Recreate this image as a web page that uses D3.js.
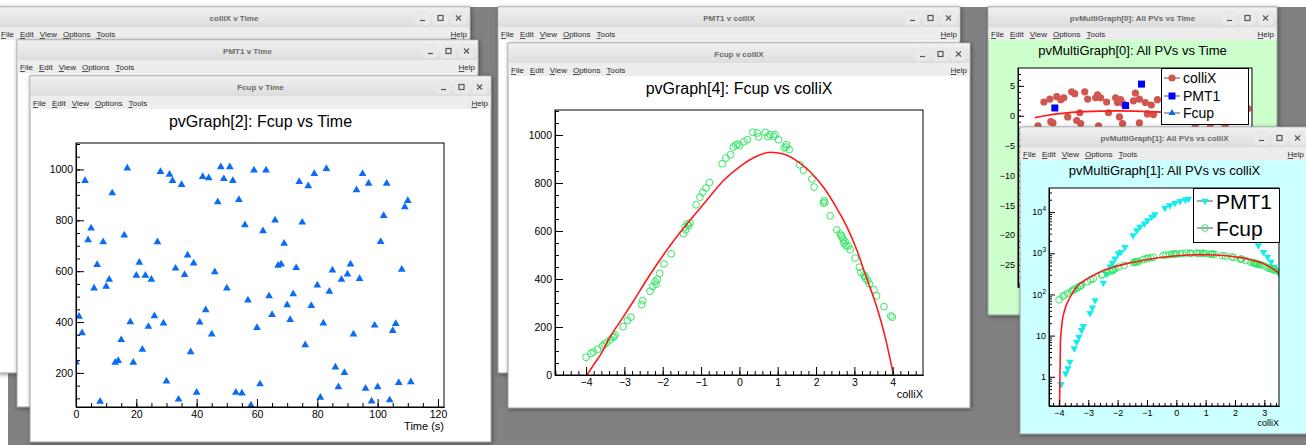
<!DOCTYPE html>
<html>
<head>
<meta charset="utf-8">
<title>ROOT pv graphs</title>
<script src="https://cdn.jsdelivr.net/npm/d3@7"></script>
<style>
  body { margin: 0; background: #fff; }
  svg { display: block; }
</style>
</head>
<body>
<div id="desk"></div>
<script>
//Fcup vs Time, one reading per second (t = index, 0..111)
var fcupVsTime = [
  242, 422, 357, 956, 723, 769, 533, 625, 88, 715,
  540, 567, 907, 241, 248, 330, 741, 1005, 400, 241,
  583, 634, 292, 583, 382, 567, 424, 715, 991, 395,
  167, 980, 956, 611, 96, 940, 586, 663, 282, 631,
  123, 399, 971, 447, 966, 352, 597, 872, 1010, 963,
  533, 1010, 956, 123, 881, 120, 782, 486, 73, 997,
  378, 156, 758, 997, 502, 429, 800, 622, 627, 709,
  467, 409, 510, 613, 952, 792, 310, 935, 464, 983,
  545, 103, 395, 1003, 520, 604, 222, 145, 567, 201,
  588, 627, 352, 919, 570, 983, 139, 945, 89, 387,
  145, 716, 818, 945, 93, 366, 393, 161, 607, 852,
  877, 164
];

//Fcup vs colliX scan
var scanColliX = [-4.0, -3.87, -3.81, -3.70, -3.57, -3.46, -3.37, -3.30, -3.24, -3.03,
  -2.92, -2.83, -2.55, -2.52, -2.33, -2.26, -2.20, -2.14, -2.08, -1.97,
  -1.78, -1.46, -1.42, -1.36, -1.29, -1.13, -1.03, -0.96, -0.87, -0.78,
  -0.45, -0.35, -0.23, -0.16, -0.09, 0.0, 0.12, 0.21, 0.35, 0.47,
  0.50, 0.68, 0.80, 0.89, 0.93, 1.02, 1.17, 1.23, 1.30, 1.57,
  1.67, 1.89, 1.95, 2.19, 2.21, 2.37, 2.54, 2.63, 2.68, 2.71,
  2.76, 2.78, 2.84, 2.89, 3.02, 3.13, 3.17, 3.25, 3.29, 3.34,
  3.39, 3.51, 3.58, 3.77, 3.95, 3.99,
  -1.40, -1.33, 2.66, 2.73, 3.28, -2.17, -3.27, -3.52, 0.74, -0.04, 1.22, 2.23];
var scanFcup = [74, 90, 96, 107, 121, 135, 146, 157, 167, 202,
  227, 241, 293, 310, 349, 369, 389, 399, 423, 463,
  505, 588, 616, 629, 633, 709, 741, 761, 779, 802,
  880, 904, 918, 950, 958, 955, 972, 980, 1011, 1008,
  992, 1011, 1001, 994, 1001, 980, 946, 960, 939, 876,
  853, 816, 783, 716, 727, 663, 605, 588, 574, 563,
  555, 538, 538, 522, 487, 449, 427, 417, 403, 394,
  380, 355, 330, 285, 246, 241,
  605, 622, 580, 548, 410, 378, 160, 128, 993, 962, 950, 719];

//red fit curve
var fitColliX = [-3.98, -3.95, -3.9, -3.8, -3.63, -3.37, -3.04, -2.77, -2.42, -2.07, -1.63, -1.2, -0.77, -0.42,
  0.02, 0.45, 0.8, 1.15, 1.58, 1.84, 2.19, 2.54, 2.80, 3.06, 3.32, 3.58, 3.8, 4.02];
var fitFcup = [0, 7, 19, 43, 83, 160, 239, 306, 396, 480, 577, 661, 744, 809,
  869, 911, 928, 921, 883, 848, 783, 695, 619, 522, 403, 285, 160, 0];

//PMT1 vs colliX (log plot)
var pmtColliX = [-3.93, -3.77, -3.70, -3.63, -3.48, -3.40, -3.32, -3.23, -3.17, -2.94,
  -2.86, -2.77, -2.49, -2.38, -2.26, -2.18, -2.09, -1.98, -1.89, -1.75,
  -1.47, -1.35, -1.24, -1.09, -0.98, -0.84, -0.73, -0.39, -0.22, -0.05,
  0.13, 0.30, 0.41, 2.80, 2.97, 3.11, 3.23, 3.34, 3.45, 3.50];
var pmtValue = [0.66, 1.2, 1.6, 2.3, 4.9, 7, 9.3, 13.5, 17, 35,
  48, 72, 190, 310, 470, 580, 740, 980, 1070, 1410,
  2700, 3600, 4350, 5250, 6300, 7600, 8800, 12700, 14500, 16500,
  18500, 20000, 21000, 1550, 1070, 815, 620, 465, 375, 310];

//multigraph[0]: all PVs vs time (visible part)
var mgTime = [8.0, 11.1, 12.7, 14.7, 16.8, 18.4, 20.4, 22.5, 24.1, 25.1,
  26.7, 29.3, 30.8, 35.0, 36.0, 37.6, 40.7, 41.7, 45.4, 46.4,
  48.0, 49.5, 47.4, 54.7, 55.7, 57.8, 60.9, 62.0, 64.0, 65.1,
  67.2, 4.9, 11.6, 27.2, 36.5, 49.0, 57.8, 86.9, 94.7, 102.5, 114.4];
var mgColliX = [2.3, 2.8, -1.2, 3.2, 2.7, 3.0, -0.2, 4.0, 3.7, -0.8,
  0.5, 4.0, 2.8, 3.0, 3.5, 3.0, 2.3, 0.5, 3.0, 2.2,
  2.7, 2.0, -0.2, 2.5, 3.8, 2.8, 2.2, 0.3, 1.8, 0.2,
  2.7, -1.7, -1.0, -1.3, -1.7, -1.3, -1.2, -1.7, -1.5, -1.7, 1.2];
var mgPmtTime = [13.7, 50.6, 58.9];
var mgPmt = [1.3, 1.7, 5.3];
var mgFitTime = [3.3, 15, 28.8, 46.4, 62, 80, 100, 112];
var mgFit = [-0.3, 0.3, 0.7, 0.8, 0.7, 0.5, 0.2, -0.1];

//tick labels
var timeTicks = [0, 20, 40, 60, 80, 100, 120];
var fcupTicks = [200, 400, 600, 800, 1000];
var fcupTicks0 = [0, 200, 400, 600, 800, 1000];
var colliTicks = [-4, -3, -2, -1, 0, 1, 2, 3, 4];
var colliTicks7 = [-4, -3, -2, -1, 0, 1, 2, 3];
var mgTicks = [-25, -20, -15, -10, -5, 0, 5];
var logTicks = [1, 10, 100, 1000, 10000];
var menuItems = ["File", "Edit", "View", "Options", "Tools"];

var FONT = "'Liberation Sans', Arial, Helvetica, sans-serif";

var svg = d3.select("#desk").append("svg")
    .attr("width", 1306)
    .attr("height", 445)
    .attr("font-family", FONT);

var defs = svg.append("defs");
var shadow = defs.append("filter").attr("id", "shadow")
    .attr("x", "-5%").attr("y", "-5%").attr("width", "110%").attr("height", "110%");
shadow.append("feDropShadow").attr("dx", 1).attr("dy", 1).attr("stdDeviation", 2)
    .attr("flood-color", "#000").attr("flood-opacity", 0.45);
var grad = defs.append("linearGradient").attr("id", "titleGrad")
    .attr("x1", 0).attr("y1", 0).attr("x2", 0).attr("y2", 1);
grad.append("stop").attr("offset", "0%").attr("stop-color", "#f1f1f1");
grad.append("stop").attr("offset", "100%").attr("stop-color", "#dcdcdc");

//desktop
svg.append("rect").attr("width", 1306).attr("height", 445).attr("fill", "#fff");
svg.append("rect").attr("x", 8).attr("y", 7).attr("width", 1298).attr("height", 438).attr("fill", "#818181");

var windows = [
  {title: "colliX v Time", x: -2, y: 7, w: 472, h: 366, bg: "#fff"},
  {title: "PMT1 v Time", x: 17, y: 40, w: 461, h: 367, bg: "#fff"},
  {title: "Fcup v Time", x: 30, y: 76, w: 461, h: 366, bg: "#fff"},
  {title: "PMT1 v colliX", x: 498, y: 7, w: 462, h: 366, bg: "#fff"},
  {title: "Fcup v colliX", x: 508, y: 43, w: 462, h: 365, bg: "#fff"},
  {title: "pvMultiGraph[0]: All PVs vs Time", x: 988, y: 7, w: 289, h: 308, bg: "#ccffcc"},
  {title: "pvMultiGraph[1]: All PVs vs colliX", x: 1020, y: 127, w: 289, h: 307, bg: "#ccffff"}
];

function drawWindow(wn) {
  var g = svg.append("g");
  g.append("rect").attr("x", wn.x).attr("y", wn.y).attr("width", wn.w).attr("height", wn.h)
      .attr("fill", wn.bg).attr("stroke", "#9c9c9c").attr("filter", "url(#shadow)");
  //title bar
  g.append("rect").attr("x", wn.x + 0.5).attr("y", wn.y + 0.5).attr("width", wn.w - 1).attr("height", 20)
      .attr("fill", "url(#titleGrad)");
  g.append("text").attr("x", wn.x + wn.w / 2).attr("y", wn.y + 13.5)
      .attr("text-anchor", "middle").attr("font-size", 8).attr("font-weight", "bold")
      .attr("fill", "#6a6a6a").text(wn.title);
  //buttons
  var r = wn.x + wn.w;
  [-55, -37, -19].forEach(function(dx, i) {
    var bx = r + dx, by = wn.y + 4;
    g.append("rect").attr("x", bx).attr("y", by).attr("width", 15).attr("height", 14).attr("rx", 3)
        .attr("fill", "#e9e9e9");
    if (i == 0) {
      g.append("line").attr("x1", bx + 5).attr("x2", bx + 10).attr("y1", by + 9.5).attr("y2", by + 9.5)
          .attr("stroke", "#555").attr("stroke-width", 1.2);
    } else if (i == 1) {
      g.append("rect").attr("x", bx + 5).attr("y", by + 4.5).attr("width", 5).attr("height", 5)
          .attr("fill", "none").attr("stroke", "#555").attr("stroke-width", 1.2);
    } else {
      g.append("path").attr("d", "M" + (bx + 5) + "," + (by + 4.5) + "l5,5m0,-5l-5,5")
          .attr("stroke", "#555").attr("stroke-width", 1.1);
    }
  });
  //menu bar
  g.append("rect").attr("x", wn.x + 0.5).attr("y", wn.y + 20.5).attr("width", wn.w - 1).attr("height", 12.5)
      .attr("fill", "#ededed");
  var mx = wn.x + 3;
  menuItems.forEach(function(m) {
    var t = g.append("text").attr("x", mx).attr("y", wn.y + 30).attr("font-size", 8).attr("fill", "#2a2a2a");
    t.append("tspan").attr("text-decoration", "underline").text(m[0]);
    t.append("tspan").text(m.slice(1));
    mx += t.node().getComputedTextLength() + 6;
  });
  var hx = Math.min(r - 3, 1304);
  var h = g.append("text").attr("x", hx).attr("y", wn.y + 30).attr("text-anchor", "end")
      .attr("font-size", 8).attr("fill", "#2a2a2a");
  h.append("tspan").attr("text-decoration", "underline").text("H");
  h.append("tspan").text("elp");
  return g;
}

function styleAxis(sel, fs) {
  sel.attr("font-family", FONT).attr("font-size", fs);
  sel.selectAll("line").attr("stroke", "#000");
  sel.selectAll(".domain").attr("stroke", "#000");
  sel.selectAll("text").attr("fill", "#000");
}

//ROOT style axes: ticks point into the frame
function drawAxes(g, box, xs, ys, o) {
  var bx = g.append("g").attr("transform", "translate(0," + box.bottom + ")");
  bx.append("g").call(d3.axisBottom(xs).tickValues(o.xMinor).tickSize(-o.minorLen).tickSizeOuter(0).tickFormat(""));
  bx.append("g").call(d3.axisBottom(xs).tickValues(o.xMajor).tickSize(-o.majorLen).tickSizeOuter(0)
      .tickPadding(o.xPad).tickFormat(o.xFmt));
  styleAxis(bx.selectAll("g"), o.fs);
  var by = g.append("g").attr("transform", "translate(" + box.left + ",0)");
  by.append("g").call(d3.axisLeft(ys).tickValues(o.yMinor).tickSize(-o.minorLen).tickSizeOuter(0).tickFormat(""));
  by.append("g").call(d3.axisLeft(ys).tickValues(o.yMajor).tickSize(-o.majorLen).tickSizeOuter(0)
      .tickPadding(3).tickFormat(o.yFmt || ""));
  styleAxis(by.selectAll("g"), o.fs);
  return by;
}

function frameBox(g, box, id) {
  g.append("rect").attr("x", box.left).attr("y", box.top)
      .attr("width", box.right - box.left).attr("height", box.bottom - box.top).attr("fill", "#fff");
  defs.append("clipPath").attr("id", id).append("rect")
      .attr("x", box.left).attr("y", box.top)
      .attr("width", box.right - box.left).attr("height", box.bottom - box.top);
  return g.append("g").attr("clip-path", "url(#" + id + ")");
}

function frameLine(g, box) {
  g.append("rect").attr("x", box.left).attr("y", box.top)
      .attr("width", box.right - box.left).attr("height", box.bottom - box.top)
      .attr("fill", "none").attr("stroke", "#000");
}

function plotTitle(g, wn, txt, y, fs) {
  g.append("text").attr("x", wn.x + wn.w / 2).attr("y", y).attr("text-anchor", "middle")
      .attr("font-size", fs).attr("fill", "#000").text(txt);
}

function marker(g, type, x, y, color, size) {
  if (type == "circle") {
    g.append("circle").attr("cx", x).attr("cy", y).attr("r", size).attr("fill", color);
  } else if (type == "ocircle") {
    g.append("circle").attr("cx", x).attr("cy", y).attr("r", size)
        .attr("fill", "none").attr("stroke", color).attr("stroke-width", 1);
  } else if (type == "square") {
    g.append("path").attr("d", d3.symbol(d3.symbolSquare, size * size)())
        .attr("transform", "translate(" + x + "," + y + ")").attr("fill", color);
  } else {
    var rot = type == "tridown" ? " rotate(180)" : "";
    g.append("path").attr("d", d3.symbol(d3.symbolTriangle, size)())
        .attr("transform", "translate(" + x + "," + y + ")" + rot).attr("fill", color);
  }
}

function legend(g, box, entries, fs, x0, rows) {
  g.append("rect").attr("x", box.left + 0.5).attr("y", box.top + 0.5)
      .attr("width", box.right - box.left).attr("height", box.bottom - box.top)
      .attr("fill", "#fff").attr("stroke", "#000");
  entries.forEach(function(e, i) {
    var cy = rows[i];
    g.append("line").attr("x1", x0 - 8).attr("x2", x0 + 8).attr("y1", cy).attr("y2", cy)
        .attr("stroke", "#555").attr("stroke-width", 1);
    marker(g, e.type, x0, cy, e.color, e.size);
    g.append("text").attr("x", x0 + 11).attr("y", cy + fs * 0.36).attr("font-size", fs)
        .attr("fill", "#000").text(e.label);
  });
}

var red = "#ff1a1a", blue = "#0a6cf5", green = "#33e866", cyan = "#12ecec";

//windows 1, 2 (only frames visible)
drawWindow(windows[0]);
drawWindow(windows[1]);

//Window 3: pvGraph[2] Fcup vs Time
var g3 = drawWindow(windows[2]);
plotTitle(g3, windows[2], "pvGraph[2]: Fcup vs Time", 127, 16);
var b3 = {left: 76, right: 444, top: 143, bottom: 407};
var x3 = d3.scaleLinear().domain([0, 122]).range([b3.left, b3.right]);
var y3 = d3.scaleLinear().domain([66, 1104]).range([b3.bottom, b3.top]);
var c3 = frameBox(g3, b3, "clip3");
fcupVsTime.forEach(function(v, t) { marker(c3, "triangle", x3(t), y3(v), blue, 26); });
drawAxes(g3, b3, x3, y3, {
  xMajor: timeTicks, xMinor: d3.range(0, 122, 5), yMajor: fcupTicks, yMinor: d3.range(100, 1104, 50),
  majorLen: 8, minorLen: 4, xPad: 4, fs: 10.5, xFmt: d3.format("d"), yFmt: d3.format("d")
});
frameLine(g3, b3);
g3.append("text").attr("x", b3.right).attr("y", 430).attr("text-anchor", "end")
    .attr("font-size", 11).attr("fill", "#000").text("Time (s)");

//Window 4 (hidden)
drawWindow(windows[3]);

//Window 5: pvGraph[4] Fcup vs colliX
var g5 = drawWindow(windows[4]);
plotTitle(g5, windows[4], "pvGraph[4]: Fcup vs colliX", 94, 16);
var b5 = {left: 555, right: 923, top: 110, bottom: 375};
var x5 = d3.scaleLinear().domain([-4.81, 4.79]).range([b5.left, b5.right]);
var y5 = d3.scaleLinear().domain([0, 1104]).range([b5.bottom, b5.top]);
var c5 = frameBox(g5, b5, "clip5");
scanColliX.forEach(function(cx, i) { marker(c5, "ocircle", x5(cx), y5(scanFcup[i]), green, 3.4); });
var fitLine5 = d3.line().curve(d3.curveMonotoneX)
    .x(function(d, i) { return x5(fitColliX[i]); })
    .y(function(d) { return y5(d); });
c5.append("path").attr("d", fitLine5(fitFcup)).attr("fill", "none").attr("stroke", red).attr("stroke-width", 1.6);
drawAxes(g5, b5, x5, y5, {
  xMajor: colliTicks, xMinor: d3.range(-24, 24).map(function(i) { return i / 5; }),
  yMajor: fcupTicks0, yMinor: d3.range(0, 1104, 50),
  majorLen: 8, minorLen: 4, xPad: 4, fs: 10.5, xFmt: d3.format("d"), yFmt: d3.format("d")
});
frameLine(g5, b5);
g5.append("text").attr("x", b5.right).attr("y", 398).attr("text-anchor", "end")
    .attr("font-size", 11).attr("fill", "#000").text("colliX");

//Window 6: pvMultiGraph[0] vs Time
var g6 = drawWindow(windows[5]);
plotTitle(g6, windows[5], "pvMultiGraph[0]: All PVs vs Time", 55, 13);
var b6 = {left: 1018, right: 1252, top: 68, bottom: 287};
var x6 = d3.scaleLinear().domain([-5.5, 116.5]).range([b6.left, b6.right]);
var y6 = d3.scaleLinear().domain([-28.7, 8]).range([b6.bottom, b6.top]);
var c6 = frameBox(g6, b6, "clip6");
mgTime.forEach(function(t, i) { marker(c6, "circle", x6(t), y6(mgColliX[i]), "#d0564f", 3.6); });
var fitLine6 = d3.line().curve(d3.curveMonotoneX)
    .x(function(d, i) { return x6(mgFitTime[i]); })
    .y(function(d) { return y6(d); });
c6.append("path").attr("d", fitLine6(mgFit)).attr("fill", "none").attr("stroke", red).attr("stroke-width", 1.8);
mgPmtTime.forEach(function(t, i) { marker(c6, "square", x6(t), y6(mgPmt[i]), "#0000ff", 7); });
drawAxes(g6, b6, x6, y6, {
  xMajor: [0, 20, 40, 60, 80, 100], xMinor: d3.range(-5, 116, 5), yMajor: mgTicks, yMinor: d3.range(-28, 8, 1),
  majorLen: 6, minorLen: 3, xPad: 4, fs: 9, xFmt: d3.format("d"), yFmt: d3.format("d")
});
frameLine(g6, b6);
legend(g6, {left: 1161, right: 1248, top: 68, bottom: 124}, [
  {label: "colliX", type: "circle", color: "#d0564f", size: 3.6},
  {label: "PMT1", type: "square", color: "#0000ff", size: 7},
  {label: "Fcup", type: "triangle", color: blue, size: 22}
], 14, 1172, [78, 96, 113]);

//Window 7: pvMultiGraph[1] vs colliX (log y)
var g7 = drawWindow(windows[6]);
plotTitle(g7, windows[6], "pvMultiGraph[1]: All PVs vs colliX", 175, 13);
var b7 = {left: 1049, right: 1279, top: 188, bottom: 406};
var x7 = d3.scaleLinear().domain([-4.34, 3.5]).range([b7.left, b7.right]);
var y7 = d3.scaleLog().domain([0.195, 38500]).range([b7.bottom, b7.top]);
var c7 = frameBox(g7, b7, "clip7");
pmtColliX.forEach(function(cx, i) { marker(c7, "tridown", x7(cx), y7(pmtValue[i]), cyan, 24); });
scanColliX.forEach(function(cx, i) { marker(c7, "ocircle", x7(cx), y7(scanFcup[i]), green, 3.3); });
var fitLine7 = d3.line().curve(d3.curveMonotoneX)
    .x(function(d, i) { return x7(fitColliX[i]); })
    .y(function(d) { return y7(Math.max(d, 0.195)); });
c7.append("path").attr("d", fitLine7(fitFcup)).attr("fill", "none").attr("stroke", red).attr("stroke-width", 1.6);
var logMinor = [];
[-1, 0, 1, 2, 3, 4].forEach(function(k) {
  d3.range(2, 10).forEach(function(m) {
    var v = m * Math.pow(10, k);
    if (v > 0.195 && v < 38500) logMinor.push(v);
  });
});
drawAxes(g7, b7, x7, y7, {
  xMajor: colliTicks7, xMinor: d3.range(-21, 18).map(function(i) { return i / 5; }),
  yMajor: logTicks, yMinor: logMinor,
  majorLen: 6, minorLen: 3, xPad: 4, fs: 9, xFmt: d3.format("d"), yFmt: function() { return ""; }
});
logTicks.forEach(function(v) {
  var t = g7.append("text").attr("x", b7.left - 3).attr("y", y7(v) + 3.2)
      .attr("text-anchor", "end").attr("font-size", 9).attr("fill", "#000");
  var e = Math.round(Math.log10(v));
  if (e < 2) {
    t.text(v);
  } else {
    t.append("tspan").text("10");
    t.append("tspan").attr("dy", -4).attr("font-size", 6.5).text(e);
  }
});
frameLine(g7, b7);
g7.append("text").attr("x", b7.right).attr("y", 426).attr("text-anchor", "end")
    .attr("font-size", 9).attr("fill", "#000").text("colliX");
legend(g7, {left: 1193, right: 1279, top: 188, bottom: 242}, [
  {label: "PMT1", type: "tridown", color: cyan, size: 24},
  {label: "Fcup", type: "ocircle", color: green, size: 3.3}
], 21, 1205, [201, 228]);
</script>
</body>
</html>
